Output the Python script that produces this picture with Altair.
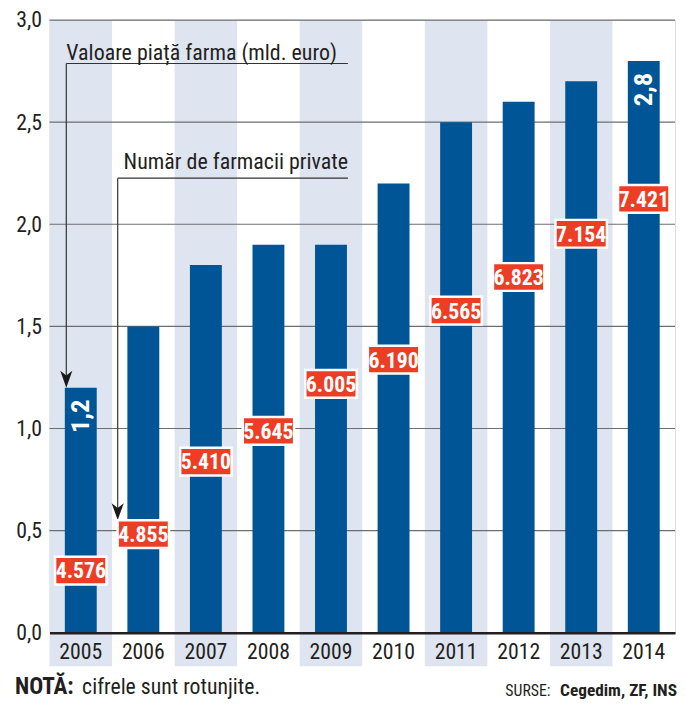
import altair as alt
import pandas as pd

# ---- data ----
years = ["2005", "2006", "2007", "2008", "2009", "2010", "2011", "2012", "2013", "2014"]
market_value = [1.2, 1.5, 1.8, 1.9, 1.9, 2.2, 2.5, 2.6, 2.7, 2.8]          # mld. euro
pharmacies = [4576, 4855, 5410, 5645, 6005, 6190, 6565, 6823, 7154, 7421]   # farmacii private
shaded_years = ["2005", "2007", "2009", "2011", "2013"]
value_label_years = ["2005", "2014"]
y_ticks = [0.0, 0.5, 1.0, 1.5, 2.0, 2.5, 3.0]
grid_values = [0.5, 1.0, 1.5, 2.0, 2.5, 3.0]

FONT = "Roboto Condensed, Liberation Sans, sans-serif"
BLUE = "#005596"
STRIPE = "#dee4f0"
RED = "#ec3e24"
INK = "#231f20"

df = pd.DataFrame({
    "year": years,
    "val": market_value,
    "farm": pharmacies,
    "farm_label": [f"{v:,}".replace(",", ".") for v in pharmacies],
    "val_label": [f"{v:.1f}".replace(".", ",") if y in value_label_years else ""
                  for y, v in zip(years, market_value)],
})
stripes_df = pd.DataFrame({"year": shaded_years})
grid_df = pd.DataFrame({"g": grid_values})
one = pd.DataFrame({"k": [0]})

x_scale = alt.Scale(domain=years, paddingInner=0, paddingOuter=0)
x_axis = alt.Axis(title=None, labelFont=FONT, labelFontSize=22, labelColor=INK,
                  ticks=False, domain=True, domainColor=INK, domainWidth=2.5,
                  labelPadding=9, labelAngle=0, zindex=1)
y_scale = alt.Scale(domain=[0, 3])
y_axis = alt.Axis(title=None, values=y_ticks, grid=False, ticks=False, domain=False,
                  labelFont=FONT, labelFontSize=22, labelColor=INK, labelPadding=8,
                  labelExpr="replace(format(datum.value, '.1f'), '.', ',')")

X = alt.X("year:N", scale=x_scale, axis=x_axis, sort=years)

stripes = alt.Chart(stripes_df).mark_rect(color=STRIPE).encode(
    x=X, y=alt.value(0), y2=alt.value(654)
)

grid = alt.Chart(grid_df).mark_rule(color="#6d6e71", strokeWidth=1.2).encode(
    y=alt.Y("g:Q", scale=y_scale, axis=y_axis)
)

bars = alt.Chart(df).mark_bar(color=BLUE, width=alt.RelativeBandSize(0.51)).encode(
    x=X, y=alt.Y("val:Q", scale=y_scale, axis=y_axis)
)

bar_values = alt.Chart(df).transform_filter("datum.val_label != ''").mark_text(
    angle=270, align="right", baseline="middle", dx=-12, font=FONT,
    fontSize=27, fontWeight="bold", color="white"
).encode(x=X, y=alt.Y("val:Q", scale=y_scale, axis=y_axis), text="val_label:N")

line_col = "#333333"
ann = []
# "Valoare piata farma" pointer
ann.append(alt.Chart(one).mark_rule(color=line_col, strokeWidth=1.2).encode(
    x=alt.value(17), x2=alt.value(302), y=alt.value(44)))
ann.append(alt.Chart(one).mark_rule(color=line_col, strokeWidth=1.2).encode(
    x=alt.value(17), y=alt.value(44), y2=alt.value(362)))
# "Numar de farmacii" pointer
ann.append(alt.Chart(one).mark_rule(color=line_col, strokeWidth=1.2).encode(
    x=alt.value(69), x2=alt.value(302), y=alt.value(160)))
ann.append(alt.Chart(one).mark_rule(color=line_col, strokeWidth=1.2).encode(
    x=alt.value(69), y=alt.value(160), y2=alt.value(497)))
arrow_shape = "M0,0L-0.36,-1L0,-0.72L0.36,-1Z"
for ax, ay in [(17, 372), (69, 506)]:
    ann.append(alt.Chart(one).mark_point(shape=arrow_shape, size=1156, filled=True,
                                          color="#1a1a1a", opacity=1).encode(
        x=alt.value(ax), y=alt.value(ay)))
ann.append(alt.Chart(one).mark_text(text="Valoare piață farma (mld. euro)", align="left",
                                     baseline="alphabetic", font=FONT, fontSize=22.2,
                                     color=INK).encode(x=alt.value(17), y=alt.value(40)))
ann.append(alt.Chart(one).mark_text(text="Număr de farmacii private", align="left",
                                     baseline="alphabetic", font=FONT, fontSize=22.2,
                                     color=INK).encode(x=alt.value(75), y=alt.value(151)))
# footer
ann.append(alt.Chart(one).mark_text(text="NOTĂ:", align="left", baseline="alphabetic",
                                     font=FONT, fontSize=23.5, fontWeight="bold",
                                     color=INK).encode(x=alt.value(-35), y=alt.value(682)))
ann.append(alt.Chart(one).mark_text(text="cifrele sunt rotunjite.", align="left",
                                     baseline="alphabetic", font=FONT, fontSize=22,
                                     color=INK).encode(x=alt.value(33), y=alt.value(682)))
ann.append(alt.Chart(one).mark_text(text="SURSE:", align="right", baseline="alphabetic",
                                     font=FONT, fontSize=16, color=INK).encode(
    x=alt.value(507), y=alt.value(684)))
ann.append(alt.Chart(one).mark_text(text="Cegedim, ZF, INS", align="right",
                                     baseline="alphabetic", font=FONT, fontSize=17.5,
                                     fontWeight="bold", color=INK).encode(
    x=alt.value(635), y=alt.value(684)))

main = alt.layer(stripes, grid, bars, bar_values, *ann)

farm_scale = alt.Scale(domain=[4100, 8790])
box_shape = "M-1,-0.54L1,-0.54L1,0.54L-1,0.54Z"
boxes = alt.Chart(df).mark_point(shape=box_shape, size=2704, filled=True, fill=RED,
                                 stroke="white", strokeWidth=2.5, opacity=1).encode(
    x=X, y=alt.Y("farm:Q", scale=farm_scale, axis=None)
)
box_text = alt.Chart(df).mark_text(font=FONT, fontSize=22, fontWeight="bold",
                                   color="white", baseline="middle", dy=1).encode(
    x=X, y=alt.Y("farm:Q", scale=farm_scale, axis=None), text="farm_label:N"
)
labels = alt.layer(boxes, box_text)

chart = alt.layer(main, labels).resolve_scale(y="independent").properties(
    width=633, height=620,
    autosize=alt.AutoSizeParams(type="none"),
    padding={"left": 42, "top": 8, "right": 3, "bottom": 72},
).configure_view(stroke=None).configure(background="white")

chart.save("out.html", embed_options={"renderer": "svg", "actions": False})
